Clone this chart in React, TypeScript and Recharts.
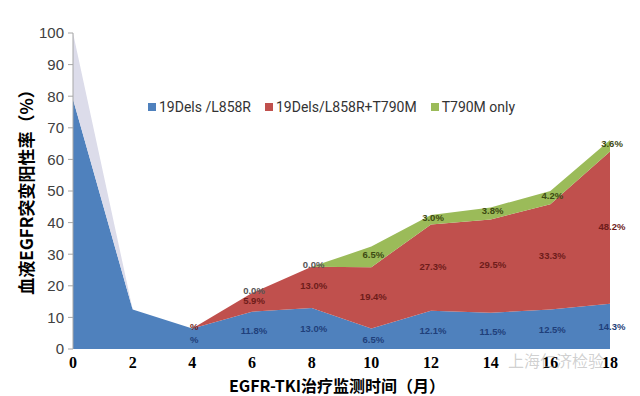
import React from "react";
import { ComposedChart, Area, Line, XAxis, YAxis, Legend, LabelList } from "recharts";

// monitoring month
const months = [0, 2, 4, 6, 8, 10, 12, 14, 16, 18];
// positive rate (%) per subtype
const sensitizing = [79, 12.5, 6.5, 11.8, 13.0, 6.5, 12.1, 11.5, 12.5, 14.3];
const withT790M = [0, 0, 0, 5.9, 13.0, 19.4, 27.3, 29.5, 33.3, 48.2];
const t790mOnly = [0, 0, 0, 0.0, 0.0, 6.5, 3.0, 3.8, 4.2, 3.6];
const unclassified = [21, 0, 0, 0, 0, 0, 0, 0, 0, 0];

const sensitizingLabels = ["", "", "%", "11.8%", "13.0%", "6.5%", "12.1%", "11.5%", "12.5%", "14.3%"];
const withT790MLabels = ["", "", "%", "5.9%", "13.0%", "19.4%", "27.3%", "29.5%", "33.3%", "48.2%"];
const t790mOnlyLabels = ["", "", "", "0.0%", "0.0%", "6.5%", "3.0%", "3.8%", "4.2%", "3.6%"];

const yTicks = [0, 10, 20, 30, 40, 50, 60, 70, 80, 90, 100];

const legendItems = [
  { name: "19Dels /L858R", color: "#4f81bd" },
  { name: "19Dels/L858R+T790M", color: "#c0504d" },
  { name: "T790M only", color: "#9bbb59" },
];

const data = months.map((m, i) => ({
  month: m,
  sens: sensitizing[i],
  t790m: withT790M[i],
  only: t790mOnly[i],
  other: unclassified[i],
  sensMid: sensitizing[i] / 2,
  t790mMid: sensitizing[i] + withT790M[i] / 2,
  onlyMid: sensitizing[i] + withT790M[i] + t790mOnly[i] / 2,
}));

const makeLabel = (labels: string[], color: string, dy: number) => (p: any) => {
  const text = labels[p.index];
  if (!text) return null;
  const c = text === "0.0%" ? "#555" : color;
  return (
    <text
      x={p.x + 2}
      y={p.y}
      dy={dy}
      textAnchor="middle"
      fontSize={9.5}
      fontWeight="bold"
      fontFamily="Liberation Sans, Arial, sans-serif"
      fill={c}
    >
      {text}
    </text>
  );
};

const renderLegend = () => (
  <div style={{ display: "flex", fontFamily: "'Liberation Sans Narrow', 'Roboto', sans-serif", fontSize: 14, color: "#333" }}>
    {legendItems.map((it) => (
      <div key={it.name} style={{ display: "flex", alignItems: "center", marginRight: 14 }}>
        <span style={{ width: 8, height: 8, background: it.color, display: "inline-block", marginRight: 3 }} />
        {it.name}
      </div>
    ))}
  </div>
);

export default function App() {
  return (
    <div style={{ position: "absolute", left: 0, top: 0, width: 640, height: 396, background: "#fff" }}>
      <ComposedChart width={640} height={396} data={data} margin={{ top: 17, right: 30, bottom: 19, left: 33 }}>
        <XAxis
          dataKey="month"
          type="number"
          domain={[0, 18]}
          ticks={months}
          height={28}
          axisLine={false}
          tickLine={false}
          tickMargin={2}
          tick={{ fill: "#000", fontSize: 16, fontWeight: "bold", fontFamily: "Liberation Serif, Times New Roman, serif" }}
        />
        <YAxis
          width={40}
          domain={[0, 100]}
          ticks={yTicks}
          axisLine={{ stroke: "#a6a6a6" }}
          tickLine={{ stroke: "#a6a6a6" }}
          tickSize={5}
          tickMargin={4}
          tick={{ fill: "#404040", fontSize: 15, fontFamily: "Liberation Sans, Arial, sans-serif" }}
        />
        <Legend content={renderLegend} verticalAlign="top" wrapperStyle={{ top: 99, left: 148, width: 420 }} />
        <Area type="linear" dataKey="sens" stackId="a" stroke="none" fill="#4f81bd" fillOpacity={1} isAnimationActive={false} />
        <Area type="linear" dataKey="t790m" stackId="a" stroke="none" fill="#c0504d" fillOpacity={1} isAnimationActive={false} />
        <Area type="linear" dataKey="only" stackId="a" stroke="none" fill="#9bbb59" fillOpacity={1} isAnimationActive={false} />
        <Area type="linear" dataKey="other" stackId="a" stroke="none" fill="#dcdcea" fillOpacity={1} isAnimationActive={false} />
        <Line dataKey="sensMid" stroke="none" dot={false} activeDot={false} isAnimationActive={false}>
          <LabelList content={makeLabel(sensitizingLabels, "#1f3f7a", 4)} />
        </Line>
        <Line dataKey="t790mMid" stroke="none" dot={false} activeDot={false} isAnimationActive={false}>
          <LabelList content={makeLabel(withT790MLabels, "#6e1c1a", 2)} />
        </Line>
        <Line dataKey="onlyMid" stroke="none" dot={false} activeDot={false} isAnimationActive={false}>
          <LabelList content={makeLabel(t790mOnlyLabels, "#3d4a12", 1)} />
        </Line>
      </ComposedChart>
      <div
        style={{
          position: "absolute",
          left: 25,
          top: 188,
          transform: "translate(-50%, -50%) rotate(-90deg)",
          whiteSpace: "nowrap",
          fontFamily: "'Noto Sans CJK SC', sans-serif",
          fontWeight: "bold",
          fontSize: 17,
          lineHeight: 1,
          color: "#000",
        }}
      >
        血液EGFR突变阳性率（%）
      </div>
      <div
        style={{
          position: "absolute",
          left: 337,
          top: 385,
          transform: "translate(-50%, -50%)",
          whiteSpace: "nowrap",
          fontFamily: "'Noto Sans CJK SC', sans-serif",
          fontWeight: "bold",
          fontSize: 16,
          lineHeight: 1,
          color: "#000",
        }}
      >
        EGFR-TKI治疗监测时间（月）
      </div>
      <div
        style={{
          position: "absolute",
          left: 508,
          top: 352,
          whiteSpace: "nowrap",
          fontFamily: "'Noto Sans CJK SC', sans-serif",
          fontSize: 16,
          lineHeight: 1,
          color: "rgba(150,150,150,0.45)",
        }}
      >
        上海仁济检验
      </div>
    </div>
  );
}
